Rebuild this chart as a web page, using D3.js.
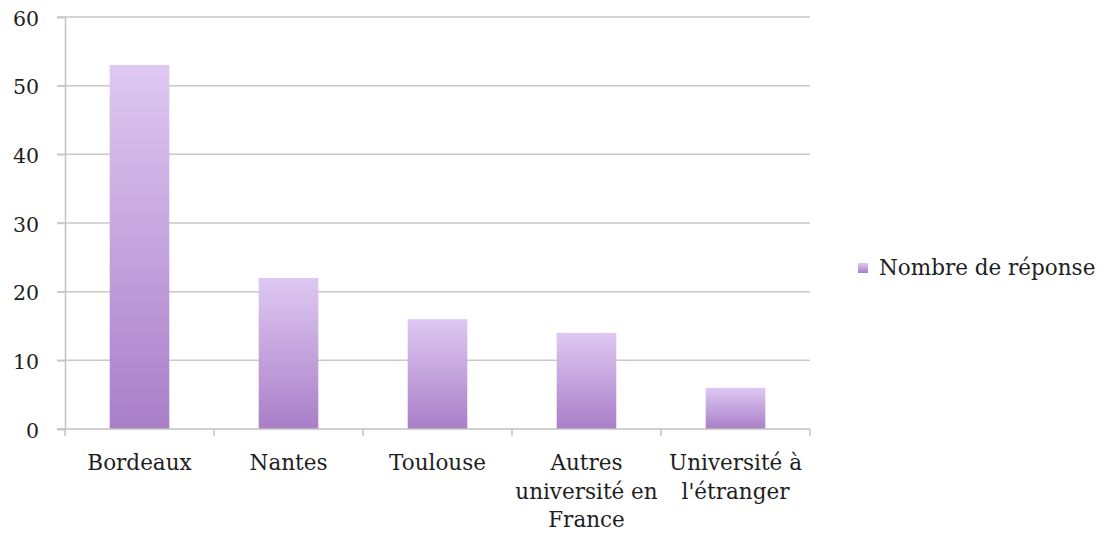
<!DOCTYPE html>
<html>
<head>
<meta charset="utf-8">
<script src="https://cdn.jsdelivr.net/npm/d3@7"></script>
<style>
  html, body { margin: 0; padding: 0; background: #fff; }
  svg { display: block; }
  text { font-family: "DejaVu Serif", serif; fill: #1e1e1e; }
</style>
</head>
<body>
<svg id="chart" width="1107" height="537"></svg>
<script>
const categories = ["Bordeaux", "Nantes", "Toulouse", "Autres\nuniversité en\nFrance", "Université à\nl'étranger"];
const values = [53, 22, 16, 14, 6];
const yTicks = [0, 10, 20, 30, 40, 50, 60];
const seriesName = "Nombre de réponse";

(function () {
const svg = d3.select("#chart");
const mLeft = 65, mRight = 810, mTop = 17, mBottom = 429;

const x = d3.scaleBand().domain(categories).range([mLeft, mRight]).paddingInner(0.6).paddingOuter(0.3);
const xb = d3.scaleBand().domain(categories).range([mLeft, mRight]);
const y = d3.scaleLinear().domain([0, 60]).range([mBottom, mTop]);

const defs = svg.append("defs");
const grad = defs.append("linearGradient").attr("id", "barGrad")
  .attr("x1", 0).attr("y1", 0).attr("x2", 0).attr("y2", 1);
grad.append("stop").attr("offset", "0%").attr("stop-color", "#dec8f2");
grad.append("stop").attr("offset", "100%").attr("stop-color", "#a97fc8");

// gridlines
svg.append("g").selectAll("line").data(yTicks.filter(d => d > 0)).join("line")
  .attr("x1", mLeft - 8).attr("x2", mRight)
  .attr("y1", d => y(d)).attr("y2", d => y(d))
  .attr("stroke", "#c9c9c9").attr("stroke-width", 1.5);

// y axis
const yAxis = svg.append("g").attr("transform", `translate(${mLeft},0)`)
  .call(d3.axisLeft(y).tickValues(yTicks).tickSize(8).tickPadding(18));
yAxis.select(".domain").attr("stroke", "#c2c2c2").attr("stroke-width", 1.5);
yAxis.selectAll(".tick line").attr("stroke", "#c9c9c9").attr("stroke-width", 1.5);
yAxis.selectAll(".tick text").attr("font-size", 20.5).attr("font-family", "DejaVu Serif").attr("fill", "#1e1e1e").attr("dy", "0.4em");

// bars
svg.append("g").selectAll("rect").data(values).join("rect")
  .attr("x", (d, i) => x(categories[i]))
  .attr("width", x.bandwidth())
  .attr("y", d => y(d))
  .attr("height", d => y(0) - y(d))
  .attr("fill", "url(#barGrad)");

// x axis
svg.append("line").attr("x1", mLeft - 8).attr("x2", mRight).attr("y1", mBottom).attr("y2", mBottom)
  .attr("stroke", "#c2c2c2").attr("stroke-width", 1.5);
const bounds = categories.map(c => xb(c)).concat([mRight]);
svg.append("g").selectAll("line").data(bounds).join("line")
  .attr("x1", d => d).attr("x2", d => d).attr("y1", mBottom).attr("y2", mBottom + 7)
  .attr("stroke", "#c2c2c2").attr("stroke-width", 1.5);

// x labels
const lbl = svg.append("g").selectAll("text").data(categories).join("text")
  .attr("text-anchor", "middle").attr("font-size", 21.5)
  .attr("transform", d => `translate(${xb(d) + xb.bandwidth() / 2},${470})`);
lbl.each(function(d) {
  const t = d3.select(this);
  d.split("\n").forEach((line, i) => {
    t.append("tspan").attr("x", 0).attr("y", i * 28.5).text(line);
  });
});

// legend
svg.append("rect").attr("x", 858).attr("y", 263).attr("width", 10).attr("height", 10).attr("fill", "url(#barGrad)");
svg.append("text").attr("x", 879).attr("y", 275).attr("font-size", 21.5).text(seriesName);
})();
</script>
</body>
</html>
